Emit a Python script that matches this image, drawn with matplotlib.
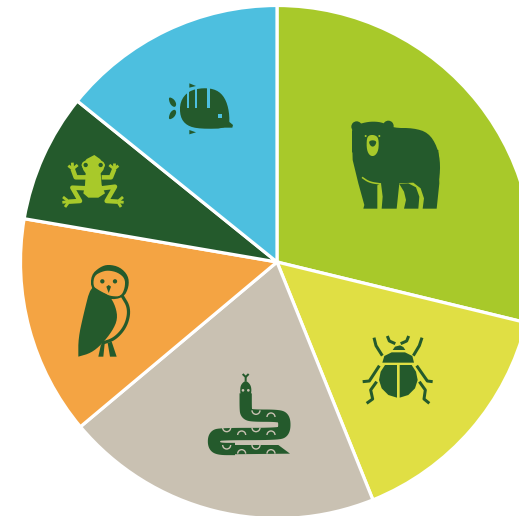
import numpy as np
import matplotlib
matplotlib.use('Agg')
import matplotlib.pyplot as plt
from matplotlib.patches import Polygon, Circle, Arc

animals = ['bear', 'beetle', 'snake', 'owl', 'frog', 'fish']
shares = [28.8, 15.1, 20.0, 13.8, 8.1, 14.2]
colors = ['#A8C92A', '#E0DF44', '#C9C1B2', '#F4A443', '#245A2C', '#4DBFDF']
dark = '#245A2C'
lime = '#A8C92A'
W, H = 519, 516

fig = plt.figure(figsize=(W / 100, H / 100), dpi=100)
ax = fig.add_axes([0, 0, 1, 1])
ax.pie(shares, colors=colors, startangle=90, counterclock=False,
       center=(277, H - 262), radius=256.5,
       wedgeprops={'edgecolor': 'white', 'linewidth': 2.3})
ax.set_xlim(0, W)
ax.set_ylim(0, H)
ax.set_aspect('equal')
ax.axis('off')


def conv(pts, org):
    pts = np.array(pts, dtype=float)
    return np.column_stack([org[0] + pts[:, 0] / 3, H - (org[1] + pts[:, 1] / 3)])


def chaikin(p, closed=True, n=2):
    for _ in range(n):
        q = np.roll(p, -1, axis=0) if closed else p[1:]
        a = p if closed else p[:-1]
        new = np.empty((len(a) * 2, 2))
        new[0::2] = a * 0.75 + q * 0.25
        new[1::2] = a * 0.25 + q * 0.75
        p = new if closed else np.vstack([p[0], new, p[-1]])
    return p


def blob(pts, org, color, smooth=True):
    p = conv(pts, org)
    if smooth:
        p = chaikin(p)
    ax.add_patch(Polygon(p, closed=True, fc=color, ec='none', zorder=5))


def stroke(pts, org, color, width, smooth=False):
    p = conv(pts, org)
    if smooth:
        p = chaikin(p, closed=False, n=3)
    ax.plot(p[:, 0], p[:, 1], color=color, lw=width * 0.72, solid_capstyle='butt',
            solid_joinstyle='round', zorder=6)


def dot(x, y, r, org, color):
    c = conv([(x, y)], org)[0]
    ax.add_patch(Circle(c, r / 3, fc=color, ec='none', zorder=7))


# bear
o = (330, 100)
dot(80, 80, 16, o, dark)
dot(175, 78, 16, o, dark)
blob([(66, 115), (66, 80), (100, 68), (130, 64), (160, 68), (190, 84), (250, 84), (295, 98),
      (322, 140), (332, 195), (325, 260), (66, 180)], o, dark)
blob([(66, 110), (325, 150), (328, 250), (320, 326), (278, 326), (282, 295), (272, 265), (250, 248),
      (208, 250), (200, 326), (155, 326), (158, 290), (153, 250), (142, 256), (142, 326),
      (100, 326), (103, 315), (85, 250), (68, 180)], o, dark, smooth=False)
stroke([(96, 232), (118, 247), (153, 252)], o, lime, 1.6, smooth=True)
blob([(208, 252), (222, 275), (228, 300), (222, 326), (265, 326), (268, 290), (258, 262), (235, 250)],
     o, dark, smooth=False)
blob([(110, 115), (118, 105), (135, 105), (146, 115), (146, 150), (135, 168), (120, 168), (110, 150)], o, lime)
blob([(116, 124), (128, 120), (140, 124), (136, 136), (128, 141), (120, 136)], o, dark)
dot(107, 108, 3, o, lime)
dot(148, 108, 3, o, lime)

# beetle
o = (350, 325)
blob([(128, 75), (135, 65), (150, 61), (160, 66), (166, 75)], o, dark, smooth=False)
blob([(97, 113), (103, 93), (125, 82), (165, 82), (187, 93), (192, 113)], o, dark, smooth=False)
blob([(141, 120), (105, 120), (92, 140), (87, 165), (95, 190), (115, 210), (141, 218)], o, dark, smooth=False)
blob([(149, 120), (185, 120), (198, 140), (203, 165), (195, 190), (175, 210), (149, 218)], o, dark, smooth=False)
for leg in [[(72, 38), (78, 62), (97, 92)], [(216, 38), (208, 62), (190, 92)],
            [(38, 170), (58, 168), (88, 122)], [(248, 170), (232, 168), (200, 122)],
            [(50, 235), (68, 222), (62, 195), (80, 170)], [(238, 235), (222, 222), (226, 195), (208, 170)],
            [(112, 33), (118, 48), (136, 56)], [(176, 33), (170, 48), (152, 56)]]:
    stroke(leg, o, dark, 3)

# snake
o = (195, 365)
stroke([(152, 85), (152, 130), (154, 146), (170, 152), (250, 152), (268, 160), (268, 198), (250, 207),
        (75, 207), (57, 214), (57, 244), (75, 252), (120, 252)], o, dark, 12.3, smooth=True)
blob([(90, 240), (250, 240), (285, 266), (90, 268)], o, dark, smooth=False)
blob([(135, 75), (138, 58), (152, 46), (166, 58), (170, 75), (166, 94), (152, 100), (138, 94)], o, dark)
stroke([(152, 50), (152, 36), (143, 27)], o, dark, 2)
stroke([(152, 36), (161, 27)], o, dark, 2)
dot(144, 76, 4, o, '#C9C1B2')
dot(160, 76, 4, o, '#C9C1B2')
for x, y, up in [(183, 136, 0), (228, 156, 1), (95, 188, 0), (140, 210, 1), (183, 188, 0), (228, 210, 1),
                 (95, 240, 0), (140, 266, 1), (183, 240, 0), (228, 266, 1)]:
    c = conv([(x, y)], o)[0]
    ax.add_patch(Arc(c, 8, 8, theta1=0 if up else 180, theta2=180 if up else 360,
                     color='#C9C1B2', lw=1.0, zorder=8))

# owl
o = (65, 255)
blob([(78, 105), (78, 60), (105, 36), (130, 28), (165, 36), (190, 62), (192, 95), (176, 128), (130, 135)], o, dark)
blob([(84, 90), (88, 62), (110, 50), (130, 46), (158, 52), (180, 70), (180, 98), (168, 124), (140, 124),
      (118, 116), (96, 108)], o, '#F4A443')
blob([(40, 305), (40, 305), (40, 250), (55, 180), (78, 90), (105, 108), (134, 122), (152, 155), (158, 192),
      (142, 228), (110, 268), (78, 294)], o, dark)
stroke([(170, 120), (194, 160), (184, 212), (150, 252), (110, 265)], o, dark, 3.2, smooth=True)
blob([(100, 305), (108, 268), (119, 266), (115, 305)], o, dark, smooth=False)
blob([(135, 305), (128, 264), (140, 260), (155, 305)], o, dark, smooth=False)
dot(112, 79, 6.5, o, dark)
dot(150, 79, 6.5, o, dark)
blob([(124, 95), (131, 90), (138, 95), (131, 114)], o, dark, smooth=False)

# frog
o = (55, 145)
blob([(118, 30), (135, 42), (150, 60), (145, 75), (137, 85), (140, 120), (150, 145), (130, 158), (100, 158),
      (85, 145), (90, 120), (92, 85), (85, 75), (80, 60), (95, 42)], o, lime, smooth=False)
for x in (92, 137):
    dot(x, 60, 12, o, lime)
    dot(x, 60, 6.5, o, dark)
for arm in [[(95, 97), (62, 97), (53, 72)], [(140, 97), (168, 97), (178, 72)],
            [(98, 130), (52, 128), (75, 168), (42, 170)], [(140, 130), (180, 125), (155, 168), (188, 170)]]:
    stroke(arm, o, lime, 4.5)
for f in [[(53, 72), (40, 62)], [(53, 72), (52, 53)], [(53, 72), (68, 60)],
          [(178, 72), (163, 60)], [(178, 72), (178, 53)], [(178, 72), (190, 62)],
          [(42, 170), (24, 156)], [(42, 170), (22, 172)], [(42, 170), (30, 186)],
          [(188, 170), (204, 156)], [(188, 170), (206, 172)], [(188, 170), (198, 186)]]:
    stroke(f, o, lime, 2.8)

# fish
o = (160, 75)
bg = '#4DBFDF'
blob([(60, 125), (60, 80), (85, 48), (130, 38), (170, 44), (195, 68), (208, 110), (208, 160), (120, 162),
      (80, 152)], o, dark)
blob([(200, 135), (212, 144), (219, 150), (217, 158), (150, 158), (150, 135)], o, dark, smooth=False)
for x0, x1 in [(80, 86), (104, 112), (140, 150)]:
    blob([(x0, 30), (x1, 30), (x1, 100), (x0, 100)], o, bg, smooth=False)
blob([(173, 118), (185, 118), (185, 130), (173, 130)], o, bg, smooth=False)
blob([(25, 65), (42, 72), (50, 88), (44, 98), (30, 88)], o, dark)
blob([(25, 135), (30, 112), (44, 102), (50, 112), (42, 128)], o, dark)
blob([(88, 25), (108, 33), (88, 38)], o, dark, smooth=False)
blob([(88, 165), (108, 172), (88, 178)], o, dark, smooth=False)

fig.savefig('out.png', dpi=100)
